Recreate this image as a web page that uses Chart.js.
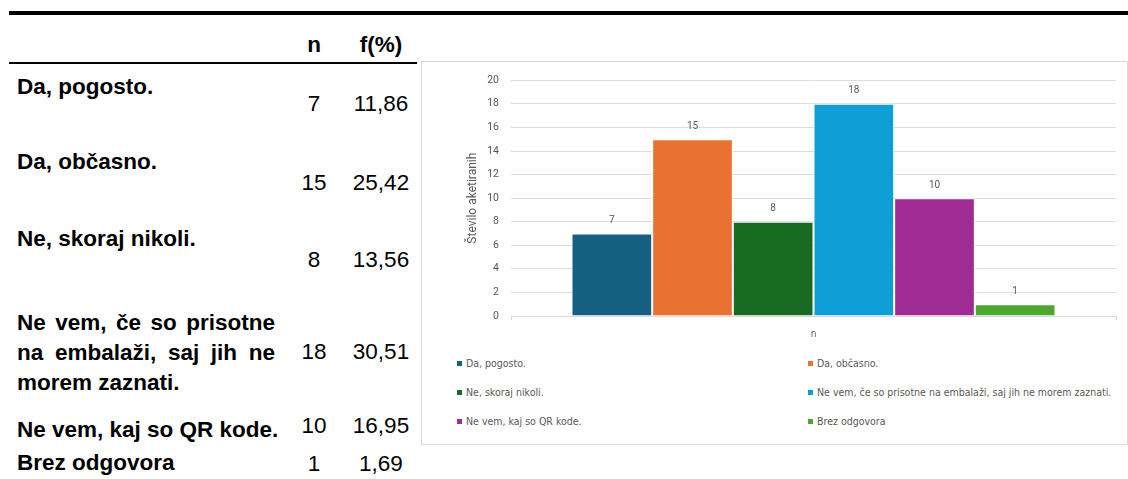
<!DOCTYPE html>
<html>
<head>
<meta charset="utf-8">
<script src="https://cdn.jsdelivr.net/npm/chart.js@4.4.1/dist/chart.umd.min.js"></script>
<style>
  html, body { margin:0; padding:0; background:#fff; }
  body { width:1128px; height:479px; position:relative; overflow:hidden; }
  .rule { position:absolute; background:#000; }
  .t { position:absolute; font-family: "Liberation Sans", Arial, sans-serif; font-weight:700; font-size:22.5px; color:#000; line-height:26px; white-space:nowrap; }
  .num { position:absolute; font-family: "Liberation Sans", Arial, sans-serif; font-weight:400; font-size:22.5px; color:#000; line-height:26px; text-align:center; white-space:nowrap; }
  .just { text-align:justify; text-align-last:justify; width:258px; }
  #box { position:absolute; left:421px; top:61px; width:705px; height:382px; border:1px solid #d9d9d9; }
  #cv { position:absolute; left:0; top:0; }
  .lg { position:absolute; font-family:"Liberation Sans Narrow", "DejaVu Sans Condensed", "Roboto", sans-serif; font-size:10.5px; color:#595959; white-space:nowrap; line-height:12px; }
  .lg i { display:inline-block; width:5px; height:5px; margin-right:4px; vertical-align:1px; }
</style>
</head>
<body>
<div class="rule" style="left:9px;top:11px;width:1119px;height:4px;"></div>
<div class="rule" style="left:9px;top:62px;width:408px;height:2px;"></div>
<div id="table"></div>
<div id="box">
  <canvas id="cv" width="705" height="290"></canvas>
  <div id="legend"></div>
</div>
<script>
// ---- data ----
const categories = ["Da, pogosto.", "Da, občasno.", "Ne, skoraj nikoli.", "Ne vem, če so prisotne na embalaži, saj jih ne morem zaznati.", "Ne vem, kaj so QR kode.", "Brez odgovora"];
const counts = [7, 15, 8, 18, 10, 1];
const percents = ["11,86", "25,42", "13,56", "30,51", "16,95", "1,69"];
const xLabels = ["n"];
const yTicks = [0, 2, 4, 6, 8, 10, 12, 14, 16, 18, 20];
const colors = ["#156082", "#E97132", "#196B24", "#0F9ED5", "#A02B93", "#4EA72E"];
const yTitle = "Število aketiranih";
const headN = "n", headF = "f(%)";

// ---- table (HTML) ----
const tbl = document.getElementById('table');
function add(cls, text, left, top, width, extraStyle) {
  const d = document.createElement('div');
  d.className = cls;
  d.textContent = text;
  d.style.left = left + 'px';
  d.style.top = top + 'px';
  if (width) d.style.width = width + 'px';
  if (extraStyle) d.style.cssText += extraStyle;
  tbl.appendChild(d);
  return d;
}
add('t', headN, 294, 32, 40, 'text-align:center;');
add('t', headF, 351, 32, 60, 'text-align:center;');
const rowLabelY = [87, 162, 239, null, 430, 463];
const rowNumY = [104, 183, 260, 352, 426, 464];
categories.forEach((c, i) => {
  if (i === 3) {
    const lines = ["Ne vem, če so prisotne", "na embalaži, saj jih ne", "morem zaznati."];
    add('t just', lines[0], 17, 323 - 13, 258);
    add('t just', lines[1], 17, 353 - 13, 258);
    add('t', lines[2], 17, 383 - 13);
  } else {
    add('t', c, 17, rowLabelY[i] - 13);
  }
  add('num', String(counts[i]), 294, rowNumY[i] - 13, 40);
  add('num', percents[i], 351, rowNumY[i] - 13, 60);
});

// ---- legend (HTML, 2 columns) ----
const lg = document.getElementById('legend');
const lgX = [35, 386];
const lgY = [301, 330, 359];
categories.forEach((c, i) => {
  const d = document.createElement('div');
  d.className = 'lg';
  d.style.left = lgX[i % 2] + 'px';
  d.style.top = (lgY[Math.floor(i / 2)] - 6) + 'px';
  const sw = document.createElement('i');
  sw.style.background = colors[i];
  d.appendChild(sw);
  d.appendChild(document.createTextNode(c));
  lg.appendChild(d);
});

// ---- chart ----
const valueLabels = {
  id: 'valueLabels',
  afterDatasetsDraw(chart) {
    const ctx = chart.ctx;
    ctx.save();
    ctx.font = '10px Roboto, sans-serif';
    ctx.fillStyle = '#595959';
    ctx.textAlign = 'center';
    ctx.textBaseline = 'middle';
    chart.data.datasets.forEach((ds, i) => {
      chart.getDatasetMeta(i).data.forEach((bar, j) => {
        ctx.fillText(String(ds.data[j]), bar.x, bar.y - 13);
      });
    });
    ctx.restore();
  }
};

new Chart(document.getElementById('cv'), {
  type: 'bar',
  data: {
    labels: xLabels,
    datasets: categories.map((c, i) => ({
      label: c,
      data: [counts[i]],
      backgroundColor: colors[i],
      borderColor: '#ffffff',
      borderWidth: 1,
      barPercentage: 1,
      categoryPercentage: 0.8
    }))
  },
  options: {
    responsive: false,
    animation: false,
    devicePixelRatio: 1,
    layout: { padding: { top: 16, right: 11, left: 0, bottom: 0 } },
    plugins: { legend: { display: false }, tooltip: { enabled: false } },
    scales: {
      x: {
        grid: { display: true, drawOnChartArea: false, color: '#d9d9d9', tickLength: 4, offset: true },
        border: { display: true, color: '#d9d9d9' },
        ticks: { color: '#595959', font: { family: '"Liberation Sans Narrow", "DejaVu Sans Condensed", Roboto, sans-serif', size: 10 }, padding: 8 },
        afterFit(s) { s.height = 36; }
      },
      y: {
        min: yTicks[0], max: yTicks[yTicks.length - 1],
        afterBuildTicks(s) { s.ticks = yTicks.map(v => ({ value: v })); },
        grid: { color: '#dedede', drawTicks: false },
        border: { display: false },
        ticks: { color: '#595959', font: { family: 'Roboto, sans-serif', size: 10.5 }, padding: 12 },
        title: { display: true, text: yTitle, color: '#595959', font: { family: 'Roboto, sans-serif', size: 12 }, padding: { top: 44, bottom: 0 } },
        afterFit(s) { s.width = 89; }
      }
    }
  },
  plugins: [valueLabels]
});
</script>
</body>
</html>
